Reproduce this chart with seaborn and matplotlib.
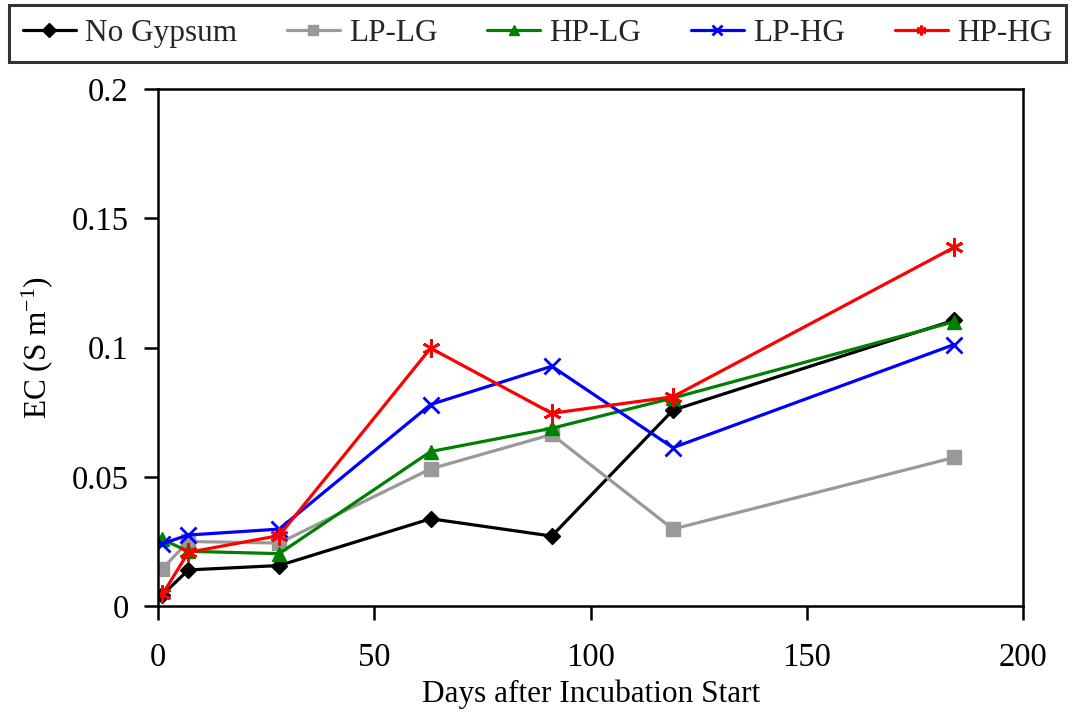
import matplotlib
matplotlib.use("Agg")
import matplotlib.pyplot as plt
import seaborn as sns
import pandas as pd

days = [1, 7, 28, 63, 91, 119, 184]
no_gypsum = [0.0043, 0.0140, 0.0157, 0.0338, 0.0271, 0.0758, 0.1106]
lp_lg = [0.0145, 0.0250, 0.0244, 0.0531, 0.0664, 0.0298, 0.0575]
hp_lg = [0.0258, 0.0212, 0.0203, 0.0598, 0.0688, 0.0805, 0.1100]
lp_hg = [0.0242, 0.0275, 0.0298, 0.0780, 0.0928, 0.0613, 0.1012]
hp_hg = [0.0045, 0.0208, 0.0273, 0.0998, 0.0746, 0.0810, 0.1388]
series_names = ["No Gypsum", "LP-LG", "HP-LG", "LP-HG", "HP-HG"]

sns.set_theme(style="white")
plt.rcParams['font.family'] = ['Liberation Serif', 'DejaVu Serif']
plt.rcParams['mathtext.fontset'] = 'custom'
plt.rcParams['mathtext.rm'] = 'Liberation Serif'
plt.rcParams['mathtext.it'] = 'Liberation Serif:italic'

fig = plt.figure(figsize=(10.75, 7.19), dpi=100)
ax = fig.add_axes([0.147, 0.157, 0.805, 0.719])

colors = ["#000000", "#999999", "#008000", "#0000ff", "#ff0000"]
markers = ["D", "s", "^", "x", (6, 2, 0)]
msizes = [8, 10, 10, 12, 13]
mews = [1, 1, 1, 2, 2]

for name, vals, c, m, ms, mew in zip(series_names, [no_gypsum, lp_lg, hp_lg, lp_hg, hp_hg],
                                      colors, markers, msizes, mews):
    df = pd.DataFrame({"day": days, "ec": vals})
    sns.lineplot(data=df, x="day", y="ec", ax=ax, color=c, marker=m, markersize=ms,
                 markeredgecolor=c, markeredgewidth=mew, linewidth=2.3, label=name)

ax.set_xlim(0, 200)
ax.set_ylim(0, 0.2)
ax.set_xticks([0, 50, 100, 150, 200])
ax.set_yticks([0, 0.05, 0.1, 0.15, 0.2])
ax.set_yticklabels(["0", "0.05", "0.1", "0.15", "0.2"])
ax.tick_params(axis='both', direction='out', length=10, width=1.8, labelsize=23.5,
               bottom=True, left=True, color='black', labelcolor='black')
ax.tick_params(axis='x', pad=16)
ax.tick_params(axis='y', pad=11)
for s in ax.spines.values():
    s.set_color('black')
    s.set_linewidth(1.8)
ax.set_xlabel("Days after Incubation Start", fontsize=22.5, color='black', labelpad=5)
ax.set_ylabel(r"EC (S m$^{\mathrm{-1}}$)", fontsize=22.5, color='black', labelpad=12)

ax.get_legend().remove()
handles, labels = ax.get_legend_handles_labels()
leg = fig.legend(handles, labels, loc='upper left', bbox_to_anchor=(0.008, 0.91, 0.984, 0.083),
                 mode='expand', ncol=5, frameon=True, fontsize=22.5, handlelength=1.7,
                 handletextpad=0.3, borderpad=0.45, borderaxespad=0, fancybox=False,
                 edgecolor='black')
leg.get_frame().set_linewidth(2.2)
for h in leg.legend_handles:
    h.set_markersize(7)

fig.savefig("out.png", dpi=100, facecolor='white')
